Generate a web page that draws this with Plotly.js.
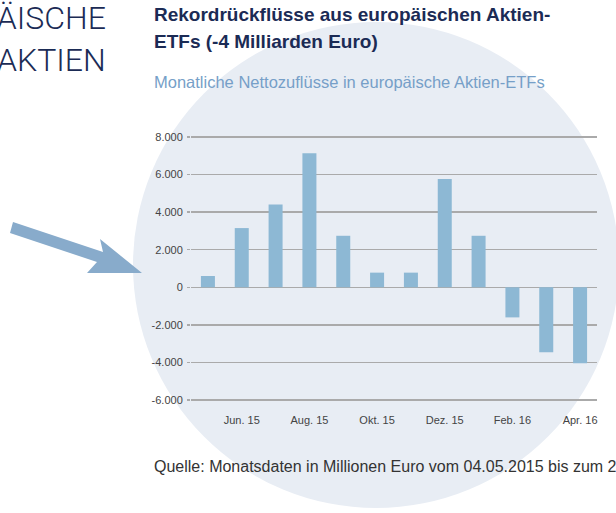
<!DOCTYPE html>
<html>
<head>
<meta charset="utf-8">
<script src="https://cdn.plot.ly/plotly-3.0.1.min.js"></script>
<style>
html,body{margin:0;padding:0;background:#ffffff;}
#chart{width:616px;height:513px;}
</style>
</head>
<body>
<div id="chart"></div>
<script>
// ---- data ----
var months = ['Mai. 15','Jun. 15','Jul. 15','Aug. 15','Sep. 15','Okt. 15','Nov. 15','Dez. 15','Jan. 16','Feb. 16','Mär. 16','Apr. 16'];
var netFlows = [600, 3150, 4400, 7130, 2740, 780, 780, 5760, 2740, -1600, -3450, -4040];
var xTickLabels = ['Jun. 15','Aug. 15','Okt. 15','Dez. 15','Feb. 16','Apr. 16'];
var yTickValues = [-6000, -4000, -2000, 0, 2000, 4000, 6000, 8000];
var yTickLabels = ['-6.000','-4.000','-2.000','0','2.000','4.000','6.000','8.000'];

var titleLine1 = 'Rekordrückflüsse aus europäischen Aktien-';
var titleLine2 = 'ETFs (-4 Milliarden Euro)';
var subtitle = 'Monatliche Nettozuflüsse in europäische Aktien-ETFs';
var sourceText = 'Quelle: Monatsdaten in Millionen Euro vom 04.05.2015 bis zum 29.04.2016';
var sideLine1 = 'EUROPÄISCHE';
var sideLine2 = 'AKTIEN';

// ---- geometry ----
var W = 616, H = 513;
var M = {l: 191, r: 19, t: 135, b: 111};
var pw = W - M.l - M.r, ph = H - M.t - M.b;
function px(x){ return (x - M.l) / pw; }
function py(y){ return (H - M.b - y) / ph; }

var navy = '#1b2b55';
var barColor = '#8db8d4';
var gridColor = '#aaaaaa';

var arrowPts = [[13,222],[103,252],[100,239],[142,273],[87,273],[97,262],[10,233]];
var arrowPath = arrowPts.map(function(p,i){ return (i===0?'M':'L') + px(p[0]) + ',' + py(p[1]); }).join(' ') + ' Z';

var trace = {
  type: 'bar',
  x: months,
  y: netFlows,
  marker: {color: barColor, line: {width: 0}},
  hoverinfo: 'x+y'
};

var layout = {
  width: W, height: H,
  margin: M,
  paper_bgcolor: 'rgba(0,0,0,0)',
  plot_bgcolor: 'rgba(0,0,0,0)',
  showlegend: false,
  bargap: 0.586,
  font: {family: 'Liberation Sans, Arial, sans-serif', color: '#444444', size: 11},
  xaxis: {
    type: 'category',
    tickmode: 'array',
    tickvals: xTickLabels,
    ticktext: xTickLabels,
    showgrid: false,
    zeroline: false,
    showline: false,
    ticks: '',
    ticklabelstandoff: 10,
    tickfont: {size: 11, color: '#444444'}
  },
  yaxis: {
    range: [-6100, 8100],
    tickmode: 'array',
    tickvals: yTickValues,
    ticktext: yTickLabels,
    showgrid: true,
    gridcolor: gridColor,
    gridwidth: 1.5,
    zeroline: true,
    zerolinecolor: gridColor,
    zerolinewidth: 1.5,
    showline: false,
    ticks: 'outside',
    ticklen: 3,
    tickwidth: 1.5,
    tickcolor: gridColor,
    ticklabelstandoff: 2,
    tickfont: {size: 11, color: '#444444'}
  },
  shapes: [
    {type: 'circle', xref: 'paper', yref: 'paper', layer: 'below',
     x0: px(133), x1: px(619), y0: py(508), y1: py(22),
     fillcolor: '#e8edf4', line: {width: 0}},
    {type: 'path', xref: 'paper', yref: 'paper', layer: 'below',
     path: arrowPath, fillcolor: '#88abcb', line: {width: 0}}
  ],
  annotations: [
    {xref: 'paper', yref: 'paper', x: px(152), y: py(14), xanchor: 'left', yanchor: 'middle',
     text: '<b>' + titleLine1 + '</b>', showarrow: false,
     font: {family: 'Liberation Sans, Arial, sans-serif', size: 19, color: navy}},
    {xref: 'paper', yref: 'paper', x: px(152), y: py(41), xanchor: 'left', yanchor: 'middle',
     text: '<b>' + titleLine2 + '</b>', showarrow: false,
     font: {family: 'Liberation Sans, Arial, sans-serif', size: 19, color: navy}},
    {xref: 'paper', yref: 'paper', x: px(152), y: py(82), xanchor: 'left', yanchor: 'middle',
     text: subtitle, showarrow: false,
     font: {family: 'Liberation Sans, Arial, sans-serif', size: 16.5, color: '#769fc8'}},
    {xref: 'paper', yref: 'paper', x: px(152), y: py(466), xanchor: 'left', yanchor: 'middle',
     text: sourceText, showarrow: false,
     font: {family: 'Liberation Sans, Arial, sans-serif', size: 16, color: '#333333'}},
    {xref: 'paper', yref: 'paper', x: px(108), y: py(18), xanchor: 'right', yanchor: 'middle',
     text: sideLine1, showarrow: false,
     font: {family: 'Roboto, Liberation Sans, sans-serif', weight: 300, size: 32, color: navy}},
    {xref: 'paper', yref: 'paper', x: px(108), y: py(60), xanchor: 'right', yanchor: 'middle',
     text: sideLine2, showarrow: false,
     font: {family: 'Roboto, Liberation Sans, sans-serif', weight: 300, size: 32, color: navy}}
  ]
};

Plotly.newPlot('chart', [trace], layout, {displayModeBar: false, staticPlot: true});
</script>
</body>
</html>
